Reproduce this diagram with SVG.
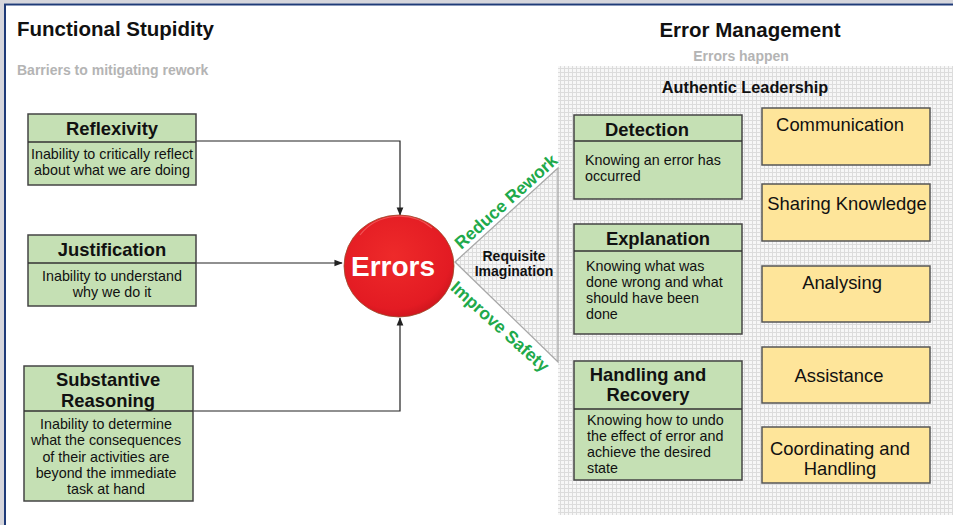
<svg xmlns="http://www.w3.org/2000/svg" width="953" height="525" viewBox="0 0 953 525">
  <defs>
    <pattern id="grid" width="4" height="4" patternUnits="userSpaceOnUse">
      <rect width="4" height="4" fill="#f7f7f7"/>
      <path d="M0 0.5H4M0.5 0V4" stroke="#dcdcdc" stroke-width="1"/>
    </pattern>
    <radialGradient id="red" cx="0.45" cy="0.4" r="0.65">
      <stop offset="0" stop-color="#ee2a2a"/>
      <stop offset="0.8" stop-color="#e31b23"/>
      <stop offset="1" stop-color="#c8141c"/>
    </radialGradient>
    <marker id="arr" viewBox="0 0 10 10" refX="9" refY="5" markerWidth="7" markerHeight="7" orient="auto">
      <path d="M0 1L10 5L0 9Z" fill="#222"/>
    </marker>
    <style>
      text { font-family: "Liberation Sans", Arial, sans-serif; fill: #111; }
      .title { font-size: 20.5px; font-weight: bold; }
      .sub { font-size: 14px; font-weight: bold; fill: #b4b4b4; }
      .g { fill: #c5e0b4; stroke: #444; stroke-width: 1.5; }
      .y { fill: #fee59a; stroke: #555; stroke-width: 1.5; }
      .div { stroke: #333; stroke-width: 1.3; }
      .hd { font-size: 18.4px; font-weight: bold; text-anchor: middle; }
      .bd { font-size: 14.3px; }
      .bc { font-size: 14.3px; text-anchor: middle; }
      .yt { font-size: 18.4px; text-anchor: middle; }
      .gr { font-size: 17.5px; font-weight: bold; fill: #20a94a; text-anchor: middle; }
      .conn { fill: none; stroke: #222; stroke-width: 1.2; }
    </style>
  </defs>

  <!-- page frame -->
  <rect width="953" height="525" fill="#ffffff"/>
  <rect x="0" y="0" width="953" height="3.5" fill="#d6d6dc"/>
  <rect x="0" y="0" width="4" height="525" fill="#d6d6dc"/>
  <path d="M5 525V4.5H953" fill="none" stroke="#1f3b78" stroke-width="2"/>

  <!-- headings -->
  <text class="title" x="17" y="36">Functional Stupidity</text>
  <text class="sub" x="17" y="75">Barriers to mitigating rework</text>
  <text class="title" x="750" y="37" text-anchor="middle">Error Management</text>
  <text class="sub" x="741" y="61" text-anchor="middle">Errors happen</text>

  <!-- error management panel and requisite imagination wedge -->
  <rect x="558" y="66" width="395" height="449" fill="url(#grid)"/>
  <path d="M455 262L558 168V362Z" fill="url(#grid)" stroke="#a8a8a8" stroke-width="1.3"/>
  <text x="745" y="93" font-size="16.3" font-weight="bold" text-anchor="middle">Authentic Leadership</text>

  <!-- connectors -->
  <g id="connectors">
    <path class="conn" d="M196 141H400V215" marker-end="url(#arr)"/>
    <path class="conn" d="M196 263H342" marker-end="url(#arr)"/>
    <path class="conn" d="M193 411H400V318" marker-end="url(#arr)"/>
  </g>

  <!-- barriers -->
  <g id="reflexivity">
    <rect class="g" x="28" y="114" width="168" height="71"/>
    <line class="div" x1="28" y1="142" x2="196" y2="142"/>
    <text class="hd" x="112" y="135">Reflexivity</text>
    <text class="bc" x="112" y="159">Inability to critically reflect</text>
    <text class="bc" x="112" y="175">about what we are doing</text>
  </g>
  <g id="justification">
    <rect class="g" x="28" y="235" width="168" height="71"/>
    <line class="div" x1="28" y1="263" x2="196" y2="263"/>
    <text class="hd" x="112" y="256">Justification</text>
    <text class="bc" x="112" y="281">Inability to understand</text>
    <text class="bc" x="112" y="297">why we do it</text>
  </g>
  <g id="substantive-reasoning">
    <rect class="g" x="24" y="366" width="169" height="135"/>
    <line class="div" x1="24" y1="411" x2="193" y2="411"/>
    <text class="hd" x="108" y="386">Substantive</text>
    <text class="hd" x="108" y="407">Reasoning</text>
    <text class="bc" x="106" y="429">Inability to determine</text>
    <text class="bc" x="106" y="445">what the consequences</text>
    <text class="bc" x="106" y="462">of their activities are</text>
    <text class="bc" x="106" y="478">beyond the immediate</text>
    <text class="bc" x="106" y="494">task at hand</text>
  </g>

  <!-- central node -->
  <g id="errors">
    <ellipse cx="399" cy="266" rx="55" ry="51" fill="url(#red)" stroke="#9a4a2a" stroke-width="0.8"/>
    <path d="M360 235A48 44 0 0 1 432 228" fill="none" stroke="#f56a6a" stroke-width="1.2" opacity="0.7"/>
    <text x="393" y="276" font-size="28" font-weight="bold" text-anchor="middle" style="fill:#ffffff">Errors</text>
  </g>

  <!-- wedge labels -->
  <g id="requisite-imagination">
    <text x="514" y="261" font-size="14" font-weight="bold" text-anchor="middle">Requisite</text>
    <text x="514" y="276" font-size="14" font-weight="bold" text-anchor="middle">Imagination</text>
    <text class="gr" transform="translate(510 206) rotate(-42)">Reduce Rework</text>
    <text class="gr" transform="translate(496 331) rotate(42)">Improve Safety</text>
  </g>

  <!-- error management stages -->
  <g id="detection">
    <rect class="g" x="574" y="115" width="168" height="84"/>
    <line class="div" x1="574" y1="141" x2="742" y2="141"/>
    <text class="hd" x="647" y="136">Detection</text>
    <text class="bd" x="585" y="165">Knowing an error has</text>
    <text class="bd" x="585" y="181">occurred</text>
  </g>
  <g id="explanation">
    <rect class="g" x="574" y="224" width="168" height="110"/>
    <line class="div" x1="574" y1="251" x2="742" y2="251"/>
    <text class="hd" x="658" y="245">Explanation</text>
    <text class="bd" x="586" y="271">Knowing what was</text>
    <text class="bd" x="586" y="287">done wrong and what</text>
    <text class="bd" x="586" y="303">should have been</text>
    <text class="bd" x="586" y="319">done</text>
  </g>
  <g id="handling-recovery">
    <rect class="g" x="574" y="361" width="168" height="119"/>
    <line class="div" x1="574" y1="409" x2="742" y2="409"/>
    <text class="hd" x="648" y="381">Handling and</text>
    <text class="hd" x="648" y="401">Recovery</text>
    <text class="bd" x="587" y="425">Knowing how to undo</text>
    <text class="bd" x="587" y="441">the effect of error and</text>
    <text class="bd" x="587" y="457">achieve the desired</text>
    <text class="bd" x="587" y="473">state</text>
  </g>

  <!-- leadership behaviours -->
  <g id="communication">
    <rect class="y" x="762" y="108" width="168" height="57"/>
    <text class="yt" x="840" y="131">Communication</text>
  </g>
  <g id="sharing-knowledge">
    <rect class="y" x="762" y="184" width="168" height="57"/>
    <text class="yt" x="847" y="210">Sharing Knowledge</text>
  </g>
  <g id="analysing">
    <rect class="y" x="762" y="266" width="168" height="56"/>
    <text class="yt" x="842" y="289">Analysing</text>
  </g>
  <g id="assistance">
    <rect class="y" x="762" y="347" width="168" height="56"/>
    <text class="yt" x="839" y="382">Assistance</text>
  </g>
  <g id="coordinating-handling">
    <rect class="y" x="762" y="427" width="168" height="56"/>
    <text class="yt" x="840" y="455">Coordinating and</text>
    <text class="yt" x="840" y="475">Handling</text>
  </g>
</svg>
